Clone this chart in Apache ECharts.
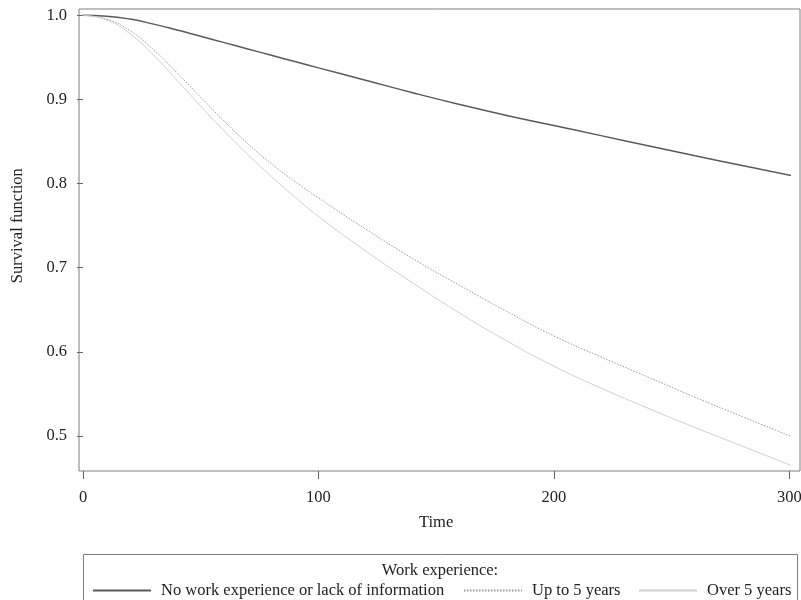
<!DOCTYPE html>
<html><head><meta charset="utf-8">
<script src="https://cdn.jsdelivr.net/npm/echarts@6/dist/echarts.min.js"></script>
<style>html,body{margin:0;padding:0;background:#fff}#c{width:801px;height:600px}</style>
</head><body><div id="c"></div>
<script>
const seriesNames = ["No work experience or lack of information", "Up to 5 years", "Over 5 years"];
const time = [0,10,20,30,40,50,60,70,80,90,100,120,140,160,180,200,220,240,260,280,303.5];
const survNone = [1.0,0.999,0.9955,0.9895,0.9825,0.975,0.9675,0.960,0.9525,0.945,0.9375,0.9228,0.908,0.894,0.881,0.869,0.857,0.845,0.833,0.8215,0.808];
const survUp5 = [1.0,0.9955,0.9815,0.959,0.9315,0.9025,0.874,0.8475,0.8235,0.8025,0.783,0.746,0.711,0.679,0.648,0.619,0.594,0.570,0.546,0.523,0.4965];
const survOver5 = [1.0,0.9945,0.978,0.9525,0.9225,0.892,0.8625,0.8345,0.8085,0.784,0.761,0.720,0.682,0.646,0.613,0.583,0.557,0.533,0.510,0.488,0.462];
const xTicks = [0,100,200,300];
const yTicks = [0.5,0.6,0.7,0.8,0.9,1.0];

const pairs = (t, v) => t.map((x, i) => [x, v[i]]);
const font = "'Liberation Serif', 'DejaVu Serif', serif";
const chart = echarts.init(document.getElementById('c'), null, {renderer: 'canvas'});
const lineSeries = (name, t, v, color, width, type) => ({
  name, type: 'line', xAxisIndex: 0, yAxisIndex: 0, data: pairs(t, v),
  symbol: 'none', smooth: 0.5, clip: false, silent: true,
  lineStyle: {color, width, type}, itemStyle: {color}
});
const legendBase = (name, left) => ({
  data: [name], left, top: 582, itemWidth: 58, itemHeight: 10,
  padding: 0, selectedMode: false, itemStyle: {opacity: 0},
  textStyle: {fontFamily: font, fontSize: 16.5, color: '#222', padding: [0,0,0,5]}
});
chart.setOption({
  animation: false,
  backgroundColor: '#fff',
  grid: [
    {left: 83, right: 11.7, top: 15.3, bottom: 164, outerBoundsMode: 'none'},
    {left: 79, right: 1, top: 9, bottom: 129, show: true, borderColor: '#7f7f7f', borderWidth: 1, backgroundColor: 'transparent', outerBoundsMode: 'none'}
  ],
  xAxis: [
    {type: 'value', gridIndex: 0, min: xTicks[0], max: xTicks[xTicks.length-1], interval: 100, offset: 35,
     name: 'Time', nameLocation: 'middle', nameGap: 43,
     nameTextStyle: {fontFamily: font, fontSize: 16.5, color: '#222'},
     axisLine: {show: false}, axisTick: {show: true, length: 8, lineStyle: {color: '#666'}},
     axisLabel: {fontFamily: font, fontSize: 16.5, color: '#222', margin: 18},
     splitLine: {show: false}},
    {type: 'value', gridIndex: 1, show: false, min: 0, max: 1}
  ],
  yAxis: [
    {type: 'value', gridIndex: 0, min: yTicks[0], max: yTicks[yTicks.length-1], interval: 0.1, offset: 4,
     name: 'Survival function', nameLocation: 'middle', nameGap: 53,
     nameTextStyle: {fontFamily: font, fontSize: 16.5, color: '#222'},
     axisLine: {show: false}, axisTick: {show: true, length: 6, lineStyle: {color: '#666'}},
     axisLabel: {fontFamily: font, fontSize: 16.5, color: '#222', margin: 12, formatter: v => v.toFixed(1)},
     splitLine: {show: false}},
    {type: 'value', gridIndex: 1, show: false, min: 0, max: 1}
  ],
  legend: [
    legendBase(seriesNames[0], 92),
    legendBase(seriesNames[1], 463),
    legendBase(seriesNames[2], 638)
  ],
  graphic: [
    {type: 'rect', shape: {x: 83.5, y: 554.5, width: 714, height: 60}, style: {fill: 'none', stroke: '#7f7f7f', lineWidth: 1}, silent: true},
    {type: 'text', x: 440, y: 571, style: {text: 'Work experience:', font: "16.5px 'Liberation Serif', serif", fill: '#222', textAlign: 'center', textVerticalAlign: 'middle'}, silent: true}
  ],
  series: [
    lineSeries(seriesNames[0], time, survNone, '#5a5a5a', 1.5, 'solid'),
    lineSeries(seriesNames[1], time, survUp5, '#9a9a9a', 1, [1.5, 1.5]),
    lineSeries(seriesNames[2], time, survOver5, '#cfcfcf', 1, 'solid')
  ]
});
</script></body></html>
